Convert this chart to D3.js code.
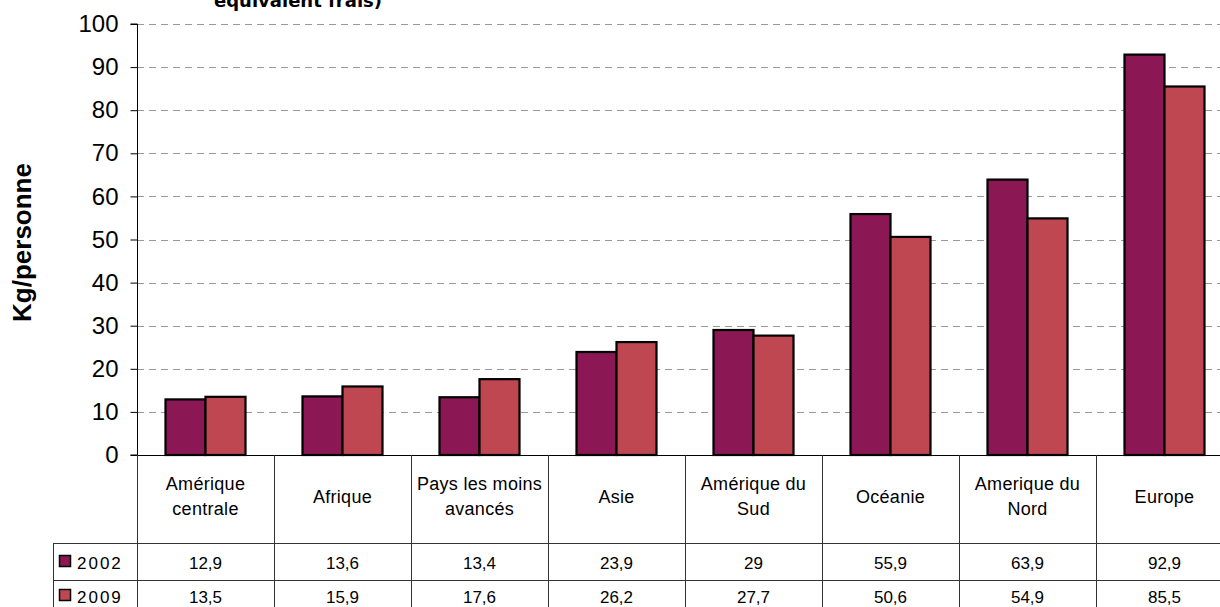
<!DOCTYPE html>
<html>
<head>
<meta charset="utf-8">
<script src="https://cdn.jsdelivr.net/npm/d3@7"></script>
<style>
  html, body { margin: 0; padding: 0; background: #fff; overflow: hidden; }
  svg { display: block; }
  text { font-family: Arial, "Liberation Sans", sans-serif; fill: #000; }
</style>
</head>
<body>
<svg id="chart" width="1220" height="607"></svg>
<script>
// Consommation de poisson par habitant (kg/personne), par région
const categories = [
  ["Amérique", "centrale"],
  ["Afrique"],
  ["Pays les moins", "avancés"],
  ["Asie"],
  ["Amérique du", "Sud"],
  ["Océanie"],
  ["Amerique du", "Nord"],
  ["Europe"]
];
const years = ["2002", "2009"];
const values2002 = [12.9, 13.6, 13.4, 23.9, 29, 55.9, 63.9, 92.9];
const values2009 = [13.5, 15.9, 17.6, 26.2, 27.7, 50.6, 54.9, 85.5];
const labels2002 = ["12,9", "13,6", "13,4", "23,9", "29", "55,9", "63,9", "92,9"];
const labels2009 = ["13,5", "15,9", "17,6", "26,2", "27,7", "50,6", "54,9", "85,5"];
const yTicks = [0, 10, 20, 30, 40, 50, 60, 70, 80, 90, 100];
const colors = ["#8B1755", "#BF4752"];

const svg = d3.select("#chart");
const plotLeft = 137, plotTop = 24, plotBottom = 455;
const catKeys = categories.map(c => c.join(" "));

const x = d3.scaleBand().domain(catKeys).range([plotLeft, plotLeft + 137 * 8])
  .paddingInner(0.416).paddingOuter(0.208);
const xs = d3.scaleBand().domain(years).range([0, x.bandwidth()]);
const y = d3.scaleLinear().domain([0, 100]).range([plotBottom, plotTop]);

// Title (last line, partly above the frame)
svg.append("text")
  .attr("x", 298).attr("y", 7)
  .attr("text-anchor", "middle")
  .style("font-family", "'DejaVu Sans', sans-serif")
  .style("font-weight", "bold").style("font-size", "18px")
  .text("équivalent frais)");

// Gridlines
svg.append("g").selectAll("line").data(yTicks.filter(d => d > 0)).join("line")
  .attr("x1", plotLeft).attr("x2", 1220)
  .attr("y1", d => Math.round(y(d)) + 0.5).attr("y2", d => Math.round(y(d)) + 0.5)
  .attr("stroke", "#9a9a9a").attr("stroke-width", 1)
  .attr("stroke-dasharray", "7,5");

// Y axis
const yAxis = d3.axisLeft(y).tickValues(yTicks).tickSize(7).tickPadding(12);
const gy = svg.append("g").attr("transform", `translate(${plotLeft + 0.5},0)`).call(yAxis);
gy.select(".domain").attr("stroke", "#000").attr("d", `M-7,${y(100)}H0V${y(0)}H-7`);
gy.selectAll(".tick line").attr("stroke", "#000");
gy.selectAll(".tick text").style("font-size", "24px").style("font-family", "Arial, 'Liberation Sans', sans-serif").attr("fill", "#000");

// Y axis title
svg.append("text")
  .attr("transform", `translate(31,${(163 + 322) / 2}) rotate(-90)`)
  .attr("text-anchor", "middle")
  .style("font-weight", "bold").style("font-size", "26px")
  .text("Kg/personne");

// Bars
const groups = svg.append("g").selectAll("g").data(catKeys).join("g")
  .attr("transform", d => `translate(${x(d)},0)`);
groups.selectAll("rect")
  .data((d, i) => [
    { year: "2002", v: values2002[i], c: colors[0] },
    { year: "2009", v: values2009[i], c: colors[1] }
  ])
  .join("rect")
  .attr("x", d => xs(d.year))
  .attr("width", xs.bandwidth())
  .attr("y", d => y(d.v))
  .attr("height", d => y(0) - y(d.v))
  .attr("fill", d => d.c)
  .attr("stroke", "#000").attr("stroke-width", 2.2);

// X baseline
svg.append("line").attr("x1", plotLeft).attr("x2", 1220)
  .attr("y1", plotBottom + 0.5).attr("y2", plotBottom + 0.5).attr("stroke", "#000");

// Data table
const rowTop = plotBottom, row1 = 543, row2 = 580, tableBottom = 607;
const tbl = svg.append("g").attr("stroke", "#333").attr("stroke-width", 1);
// vertical separators
const bounds = d3.range(9).map(i => plotLeft + 137 * i);
tbl.selectAll("line.v").data(bounds).join("line").attr("class", "v")
  .attr("x1", d => d + 0.5).attr("x2", d => d + 0.5)
  .attr("y1", rowTop).attr("y2", tableBottom);
// legend column left edge
tbl.append("line").attr("x1", 53.5).attr("x2", 53.5).attr("y1", row1).attr("y2", tableBottom);
// horizontal lines
[row1, row2].forEach(r => tbl.append("line")
  .attr("x1", 53).attr("x2", 1220).attr("y1", r + 0.5).attr("y2", r + 0.5));

// Category headers
const hdr = svg.append("g").selectAll("text").data(categories).join("text")
  .attr("text-anchor", "middle")
  .attr("x", (d, i) => x(catKeys[i]) + x.bandwidth() / 2)
  .attr("y", d => d.length === 2 ? 490 : 503)
  .style("font-size", "18px").style("letter-spacing", "0.3px");
hdr.selectAll("tspan").data(d => d).join("tspan")
  .attr("x", function() { return d3.select(this.parentNode).attr("x"); })
  .attr("dy", (d, i) => i === 0 ? 0 : 25)
  .text(d => d);

// Value rows
const rows = [
  { year: "2002", labels: labels2002, c: colors[0], y: 569 },
  { year: "2009", labels: labels2009, c: colors[1], y: 603 }
];
rows.forEach(r => {
  svg.append("g").selectAll("text").data(r.labels).join("text")
    .attr("text-anchor", "middle")
    .attr("x", (d, i) => x(catKeys[i]) + x.bandwidth() / 2)
    .attr("y", r.y)
    .style("font-size", "17px")
    .text(d => d);
  svg.append("rect").attr("x", 59.5).attr("y", r.y - 13.5).attr("width", 11).attr("height", 11)
    .attr("fill", r.c).attr("stroke", "#000").attr("stroke-width", 1.5);
  svg.append("text").attr("x", 77).attr("y", r.y)
    .style("font-size", "17px").style("letter-spacing", "2px")
    .text(r.year);
});
</script>
</body>
</html>
